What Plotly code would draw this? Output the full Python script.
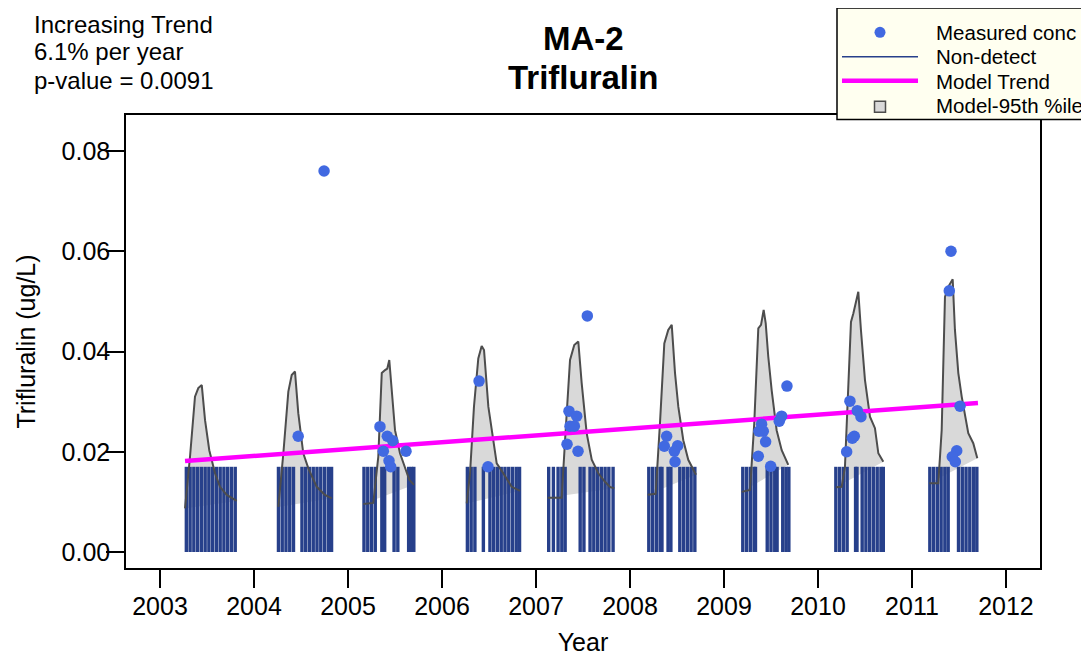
import plotly.graph_objects as go

# ---------------- data ----------------
x_ticks = [2003, 2004, 2005, 2006, 2007, 2008, 2009, 2010, 2011, 2012]
y_ticks = [0.00, 0.02, 0.04, 0.06, 0.08]

meas_years = [2004.745, 2004.470,
              2005.340, 2005.418, 2005.476, 2005.376, 2005.617, 2005.436, 2005.454,
              2006.394, 2006.489,
              2007.546, 2007.351, 2007.433, 2007.362, 2007.408, 2007.330, 2007.447,
              2008.390, 2008.365, 2008.507, 2008.472, 2008.479,
              2009.670, 2009.613, 2009.588, 2009.400, 2009.418, 2009.372, 2009.443, 2009.365, 2009.497,
              2010.340, 2010.418, 2010.457, 2010.386, 2010.365, 2010.305,
              2011.415, 2011.397, 2011.511, 2011.476, 2011.429, 2011.461]
meas_conc = [0.0760, 0.0231,
             0.0250, 0.0231, 0.0222, 0.0201, 0.0201, 0.0182, 0.0170,
             0.0341, 0.0170,
             0.0471, 0.0281, 0.0271, 0.0251, 0.0251, 0.0215, 0.0201,
             0.0231, 0.0211, 0.0212, 0.0201, 0.0180,
             0.0331, 0.0271, 0.0261, 0.0255, 0.0241, 0.0241, 0.0220, 0.0191, 0.0171,
             0.0301, 0.0282, 0.0270, 0.0231, 0.0227, 0.0200,
             0.0600, 0.0521, 0.0291, 0.0202, 0.0190, 0.0180]

nd_limit = 0.017
nd_years = [
    2003.28, 2003.32, 2003.36, 2003.40, 2003.44, 2003.48, 2003.52, 2003.56, 2003.60, 2003.64, 2003.68, 2003.72, 2003.76, 2003.80,
    2004.26, 2004.30, 2004.34, 2004.38, 2004.42, 2004.51, 2004.55, 2004.59, 2004.63, 2004.67, 2004.71, 2004.75, 2004.79, 2004.825,
    2005.17, 2005.21, 2005.25, 2005.29, 2005.36, 2005.39, 2005.49, 2005.53, 2005.645, 2005.675, 2005.70,
    2006.27, 2006.31, 2006.35, 2006.44, 2006.51, 2006.55, 2006.59, 2006.63, 2006.67, 2006.71, 2006.75, 2006.79, 2006.825,
    2007.135, 2007.185, 2007.235, 2007.275, 2007.31, 2007.47, 2007.51, 2007.575, 2007.615, 2007.655, 2007.695, 2007.735, 2007.775, 2007.82,
    2008.20, 2008.24, 2008.28, 2008.32, 2008.34, 2008.405, 2008.435, 2008.53, 2008.57, 2008.61, 2008.65, 2008.69,
    2009.20, 2009.24, 2009.28, 2009.32, 2009.335, 2009.46, 2009.50, 2009.54, 2009.565, 2009.625, 2009.66, 2009.69,
    2010.19, 2010.23, 2010.27, 2010.31, 2010.40, 2010.415, 2010.47, 2010.51, 2010.55, 2010.59, 2010.63, 2010.67, 2010.695,
    2011.19, 2011.23, 2011.27, 2011.31, 2011.35, 2011.385, 2011.495, 2011.535, 2011.575, 2011.615, 2011.655, 2011.69,
]

trend_years = [2003.266, 2011.702]
trend_conc = [0.01815, 0.02973]

p95_years = [
    [2003.266, 2003.319, 2003.372, 2003.407, 2003.444, 2003.479, 2003.524, 2003.585, 2003.638, 2003.710, 2003.816],
    [2004.259, 2004.312, 2004.365, 2004.401, 2004.436, 2004.471, 2004.524, 2004.578, 2004.667, 2004.755, 2004.827],
    [2005.163, 2005.269, 2005.322, 2005.359, 2005.394, 2005.418, 2005.439, 2005.465, 2005.500, 2005.553, 2005.624, 2005.652, 2005.702],
    [2006.263, 2006.298, 2006.340, 2006.386, 2006.422, 2006.447, 2006.493, 2006.546, 2006.582, 2006.652, 2006.741, 2006.830],
    [2007.124, 2007.273, 2007.309, 2007.362, 2007.407, 2007.450, 2007.486, 2007.539, 2007.593, 2007.663, 2007.734, 2007.787, 2007.833],
    [2008.188, 2008.273, 2008.319, 2008.365, 2008.407, 2008.444, 2008.479, 2008.514, 2008.567, 2008.620, 2008.702],
    [2009.188, 2009.277, 2009.322, 2009.365, 2009.394, 2009.422, 2009.444, 2009.471, 2009.507, 2009.560, 2009.614, 2009.684],
    [2010.191, 2010.252, 2010.287, 2010.322, 2010.351, 2010.376, 2010.401, 2010.429, 2010.457, 2010.500, 2010.553, 2010.606, 2010.642, 2010.695],
    [2011.184, 2011.280, 2011.316, 2011.351, 2011.386, 2011.433, 2011.457, 2011.493, 2011.529, 2011.564, 2011.599, 2011.652, 2011.695],
]
p95_conc = [
    [0.0087, 0.0190, 0.0310, 0.0327, 0.0333, 0.0263, 0.0203, 0.0157, 0.0130, 0.0114, 0.0102],
    [0.0090, 0.0197, 0.0320, 0.0353, 0.0360, 0.0277, 0.0197, 0.0167, 0.0130, 0.0114, 0.0107],
    [0.0096, 0.0098, 0.0190, 0.0357, 0.0363, 0.0366, 0.0383, 0.0323, 0.0243, 0.0197, 0.0157, 0.0144, 0.0134],
    [0.0097, 0.0157, 0.0290, 0.0386, 0.0411, 0.0403, 0.0290, 0.0223, 0.0177, 0.0157, 0.0130, 0.0122],
    [0.0108, 0.0108, 0.0223, 0.0383, 0.0413, 0.0420, 0.0337, 0.0237, 0.0184, 0.0157, 0.0140, 0.0130, 0.0127],
    [0.0114, 0.0116, 0.0257, 0.0416, 0.0443, 0.0453, 0.0357, 0.0290, 0.0223, 0.0184, 0.0154],
    [0.0120, 0.0124, 0.0257, 0.0446, 0.0453, 0.0483, 0.0456, 0.0390, 0.0323, 0.0243, 0.0203, 0.0174],
    [0.0129, 0.0130, 0.0170, 0.0330, 0.0459, 0.0476, 0.0496, 0.0519, 0.0443, 0.0343, 0.0270, 0.0247, 0.0197, 0.0180],
    [0.0137, 0.0137, 0.0243, 0.0509, 0.0529, 0.0544, 0.0443, 0.0357, 0.0310, 0.0270, 0.0237, 0.0217, 0.0187],
]

site = "MA-2"
chemical = "Trifluralin"
trend_text = ["Increasing Trend", "6.1% per year", "p-value = 0.0091"]
legend_labels = ["Measured conc", "Non-detect", "Model Trend", "Model-95th %ile"]

# ---------------- styles / layout geometry ----------------
OFF = 8                      # page body margin offset of the rendered figure
W, H = 1089 - OFF, 658 - OFF
L, R, T, B = 126 - OFF, 1040 - OFF, 115 - OFF, 568 - OFF   # plot box in figure pixels
FONT = "Liberation Sans, Arial, sans-serif"
C_PT = "#4169E1"
C_ND = "#27408B"
C_TR = "#FF00FF"
C_FILL = "#D9D9D9"
C_EDGE = "#4D4D4D"


def px(x):
    """reference-picture x pixel -> paper coordinate"""
    return (x - OFF - L) / (R - L)


def py(y):
    """reference-picture y pixel -> paper coordinate"""
    return (B - (y - OFF)) / (B - T)


fig = go.Figure()

# polygons (fill only)
poly_x, poly_y = [], []
for xs, ys in zip(p95_years, p95_conc):
    poly_x += xs + [None]
    poly_y += ys + [None]
fig.add_trace(go.Scatter(x=poly_x, y=poly_y, mode="lines", fill="toself",
                         fillcolor=C_FILL, line=dict(width=0, color=C_FILL),
                         hoverinfo="skip", showlegend=False))

# non-detect vertical lines
nd_x, nd_y = [], []
for yr in nd_years:
    nd_x += [yr, yr, None]
    nd_y += [0, nd_limit, None]
fig.add_trace(go.Scatter(x=nd_x, y=nd_y, mode="lines",
                         line=dict(color=C_ND, width=3.4),
                         name=legend_labels[1], showlegend=False))

# polygon outlines
fig.add_trace(go.Scatter(x=poly_x, y=poly_y, mode="lines",
                         line=dict(color=C_EDGE, width=2),
                         name=legend_labels[3], showlegend=False))

# model trend
fig.add_trace(go.Scatter(x=trend_years, y=trend_conc, mode="lines",
                         line=dict(color=C_TR, width=4.5),
                         name=legend_labels[2], showlegend=False))

# measured points
fig.add_trace(go.Scatter(x=meas_years, y=meas_conc, mode="markers",
                         marker=dict(color=C_PT, size=11.5, line=dict(width=0)),
                         name=legend_labels[0], showlegend=False))

axis_common = dict(showgrid=False, zeroline=False, showline=True, mirror=True,
                   linecolor="black", linewidth=1.5, ticks="outside", ticklen=18,
                   tickwidth=1.5, tickcolor="black", automargin=False,
                   tickfont=dict(family=FONT, size=25, color="black"))

fig.update_layout(
    width=W, height=H,
    margin=dict(l=L, r=W - R, t=T, b=H - B, pad=0, autoexpand=False),
    paper_bgcolor="white", plot_bgcolor="white",
    font=dict(family=FONT, color="black"),
    showlegend=False,
    xaxis=dict(range=[2002.638, 2012.362], tickvals=x_ticks,
               ticktext=[str(v) for v in x_ticks], ticklabelstandoff=-3,
               title=dict(text="Year", font=dict(family=FONT, size=25), standoff=15),
               **axis_common),
    yaxis=dict(range=[-0.00319, 0.08718], tickvals=y_ticks,
               ticktext=[f"{v:.2f}" for v in y_ticks], ticklabelstandoff=-9,
               title=dict(text="Trifluralin (ug/L)", font=dict(family=FONT, size=25), standoff=19),
               **axis_common),
)

annotations = []
# title
annotations.append(dict(text=f"<b>{site}</b>", x=0.5, y=py(38), xref="paper", yref="paper",
                        xanchor="center", yanchor="middle", showarrow=False,
                        font=dict(family=FONT, size=33, color="black")))
annotations.append(dict(text=f"<b>{chemical}</b>", x=0.5, y=py(77), xref="paper", yref="paper",
                        xanchor="center", yanchor="middle", showarrow=False,
                        font=dict(family=FONT, size=33, color="black")))
# trend info
for i, t in enumerate(trend_text):
    annotations.append(dict(text=t, x=px(32), y=py(24 + 28 * i), xref="paper", yref="paper",
                            xanchor="left", yanchor="middle", showarrow=False,
                            font=dict(family=FONT, size=24, color="black")))
# legend texts
leg_y = [32.3, 56.7, 81.2, 106.0]
for lab, yy in zip(legend_labels, leg_y):
    annotations.append(dict(text=lab, x=px(934), y=py(yy), xref="paper", yref="paper",
                            xanchor="left", yanchor="middle", showarrow=False,
                            font=dict(family=FONT, size=20.5, color="black")))

shapes = [
    dict(type="rect", xref="paper", yref="paper", x0=px(837), x1=px(1100), y0=py(119.5), y1=py(8),
         fillcolor="#FFFFF0", line=dict(color="black", width=1.5), layer="above"),
    dict(type="circle", xref="paper", yref="paper", x0=px(874.5), x1=px(885.5), y0=py(37.8), y1=py(26.8),
         fillcolor=C_PT, line=dict(width=0), layer="above"),
    dict(type="line", xref="paper", yref="paper", x0=px(842), x1=px(918), y0=py(56.7), y1=py(56.7),
         line=dict(color=C_ND, width=1.5), layer="above"),
    dict(type="line", xref="paper", yref="paper", x0=px(842), x1=px(918), y0=py(80.7), y1=py(80.7),
         line=dict(color=C_TR, width=4.5), layer="above"),
    dict(type="rect", xref="paper", yref="paper", x0=px(874.5), x1=px(885.5), y0=py(112.2), y1=py(101.2),
         fillcolor=C_FILL, line=dict(color=C_EDGE, width=1.5), layer="above"),
]

fig.update_layout(annotations=annotations, shapes=shapes)

fig.write_html("out.html")
